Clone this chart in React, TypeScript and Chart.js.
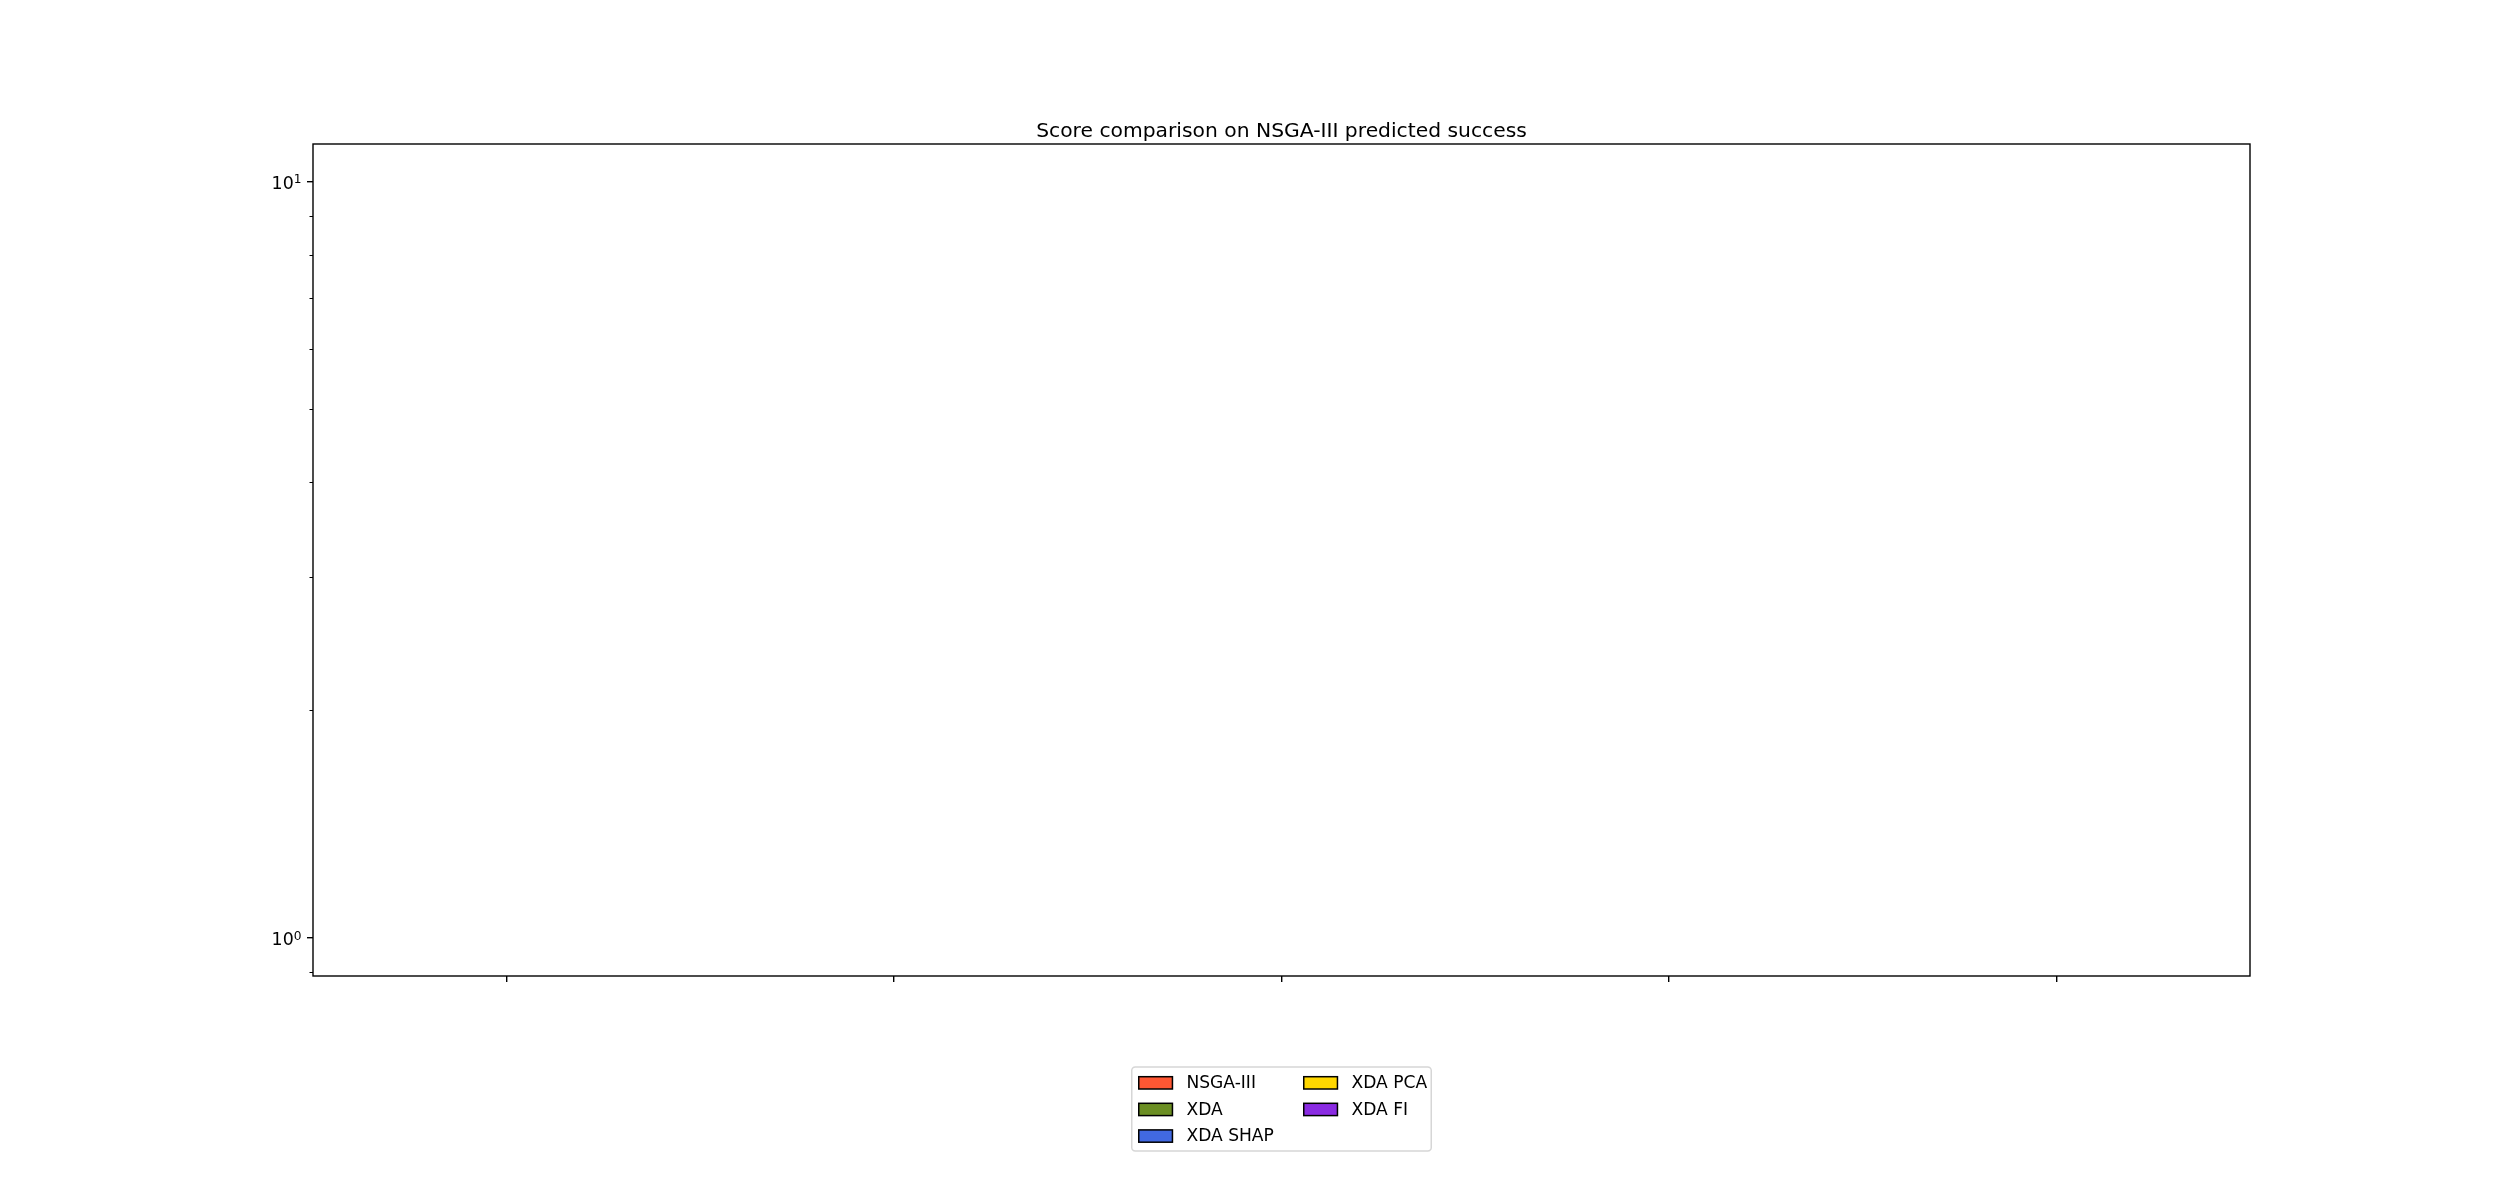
import { useEffect, useRef } from 'react';
import { Chart, registerables } from 'chart.js';

Chart.register(...registerables);

// ---- data ----
const categories = ['P1', 'P2', 'P3', 'P4', 'P5'];
const seriesLabels = ['NSGA-III', 'XDA', 'XDA SHAP', 'XDA PCA', 'XDA FI'];
const seriesColors = ['#FF5733', '#6B8E23', '#4169E1', '#FFD700', '#8A2BE2'];
const nsga3Values: (number | null)[] = [null, null, null, null, null];
const xdaValues: (number | null)[] = [null, null, null, null, null];
const xdaShapValues: (number | null)[] = [null, null, null, null, null];
const xdaPcaValues: (number | null)[] = [null, null, null, null, null];
const xdaFiValues: (number | null)[] = [null, null, null, null, null];
const majorTicks = [1, 10];
const majorTickBase = '10';
const majorTickExponents = ['0', '1'];
const minorTicks = [0.9, 2, 3, 4, 5, 6, 7, 8, 9];
const yMin = 0.8913;
const yMax = 11.22;
const titleText = 'Score comparison on NSGA-III predicted success';

const seriesValues = [nsga3Values, xdaValues, xdaShapValues, xdaPcaValues, xdaFiValues];

const FONT = 'DejaVu Sans';
const TICK_FS = 17.4;

const framePlugin = {
  id: 'mplFrame',
  afterDraw(chart: any) {
    const { ctx, chartArea: a } = chart;
    ctx.save();
    ctx.strokeStyle = '#000';
    ctx.lineWidth = 1.4;
    ctx.strokeRect(a.left, a.top, a.right - a.left, a.bottom - a.top);
    ctx.restore();
  },
};

// mathtext-like "10^n" labels for the major log ticks, placed via the y scale
const logLabelPlugin = {
  id: 'mplLogLabels',
  afterDraw(chart: any) {
    const { ctx } = chart;
    const scale = chart.scales.y;
    const xRight = scale.right - 6 - 6;
    ctx.save();
    ctx.fillStyle = '#000';
    ctx.textAlign = 'right';
    ctx.textBaseline = 'alphabetic';
    majorTicks.forEach((v, i) => {
      const y = scale.getPixelForValue(v);
      ctx.font = `12.2px "${FONT}"`;
      const supW = ctx.measureText(majorTickExponents[i]).width;
      ctx.fillText(majorTickExponents[i], xRight + 0.5, y + 1.4);
      ctx.font = `${TICK_FS}px "${FONT}"`;
      ctx.fillText(majorTickBase, xRight - supW + 0.5, y + 7.3);
    });
    ctx.restore();
  },
};

const legendPlugin = {
  id: 'mplLegend',
  afterDraw(chart: any) {
    const { ctx, chartArea: a } = chart;
    const fs = 17.1;
    const boxW = 299.5;
    const boxH = 84;
    const boxX = (a.left + a.right) / 2 - boxW / 2;
    const boxY = 1067;
    const r = 3.5;
    ctx.save();
    ctx.beginPath();
    ctx.moveTo(boxX + r, boxY);
    ctx.lineTo(boxX + boxW - r, boxY);
    ctx.arcTo(boxX + boxW, boxY, boxX + boxW, boxY + r, r);
    ctx.lineTo(boxX + boxW, boxY + boxH - r);
    ctx.arcTo(boxX + boxW, boxY + boxH, boxX + boxW - r, boxY + boxH, r);
    ctx.lineTo(boxX + r, boxY + boxH);
    ctx.arcTo(boxX, boxY + boxH, boxX, boxY + boxH - r, r);
    ctx.lineTo(boxX, boxY + r);
    ctx.arcTo(boxX, boxY, boxX + r, boxY, r);
    ctx.closePath();
    ctx.fillStyle = 'rgba(255,255,255,0.8)';
    ctx.fill();
    ctx.strokeStyle = '#d6d6d6';
    ctx.lineWidth = 1.5;
    ctx.stroke();

    const colX = [7, 172];
    const patchW = 33.7;
    const patchH = 12.3;
    const textOff = 47.7;
    const rowPitch = 26.6;
    ctx.font = `${fs}px "${FONT}"`;
    ctx.textBaseline = 'middle';
    ctx.textAlign = 'left';
    chart.data.datasets.forEach((ds: any, i: number) => {
      const col = Math.floor(i / 3);
      const row = i % 3;
      const px = boxX + colX[col];
      const py = boxY + 9.7 + row * rowPitch;
      ctx.fillStyle = ds.backgroundColor;
      ctx.fillRect(px, py, patchW, patchH);
      ctx.strokeStyle = '#000';
      ctx.lineWidth = 1.5;
      ctx.strokeRect(px, py, patchW, patchH);
      ctx.fillStyle = '#000';
      ctx.fillText(ds.label, px + textOff, py + patchH / 2 + 1);
    });
    ctx.restore();
  },
};

export default function App() {
  const ref = useRef<HTMLCanvasElement>(null);
  useEffect(() => {
    Chart.defaults.font.family = FONT;
    const chart = new Chart(ref.current as HTMLCanvasElement, {
      type: 'bar',
      data: {
        labels: categories,
        datasets: seriesLabels.map((label, i) => ({
          label,
          data: seriesValues[i],
          backgroundColor: seriesColors[i],
          borderColor: '#000',
          borderWidth: 1.5,
        })),
      },
      options: {
        animation: false,
        responsive: false,
        devicePixelRatio: 1,
        layout: { padding: { left: 313, right: 250, top: 0, bottom: 0 } },
        plugins: {
          legend: { display: false },
          tooltip: { enabled: false },
          title: {
            display: true,
            text: titleText,
            color: '#000',
            font: { family: FONT, size: 20.3, weight: 'normal', lineHeight: 1.2 },
            padding: { top: 119.5, bottom: 0.14 },
          },
        },
        scales: {
          x: {
            type: 'category',
            offset: true,
            grid: {
              offset: false,
              drawOnChartArea: false,
              drawTicks: true,
              tickLength: 6,
              color: '#000',
              lineWidth: 1.4,
            },
            border: { display: false },
            ticks: { callback: () => '', autoSkip: false },
            afterFit: (s: any) => {
              s.height = 224;
            },
          },
          y: {
            type: 'logarithmic',
            position: 'left',
            weight: 1,
            min: yMin,
            max: yMax,
            bounds: 'data',
            grid: {
              drawOnChartArea: false,
              drawTicks: true,
              tickLength: 6,
              color: '#000',
              lineWidth: 1.4,
            },
            border: { display: false },
            ticks: { display: false, autoSkip: false },
            afterBuildTicks: (s: any) => {
              s.ticks = majorTicks.map((v) => ({ value: v, major: true }));
            },
            afterFit: (s: any) => {
              s.width = 0;
            },
          },
          yMinor: {
            type: 'logarithmic',
            position: 'left',
            weight: 0,
            min: yMin,
            max: yMax,
            bounds: 'data',
            grid: {
              drawOnChartArea: false,
              drawTicks: true,
              tickLength: 3.5,
              color: '#000',
              lineWidth: 1.0,
            },
            border: { display: false },
            ticks: { display: false, autoSkip: false },
            afterBuildTicks: (s: any) => {
              s.ticks = minorTicks.map((v) => ({ value: v }));
            },
            afterFit: (s: any) => {
              s.width = 0;
            },
          },
        },
      } as any,
      plugins: [framePlugin, logLabelPlugin, legendPlugin],
    });
    return () => chart.destroy();
  }, []);
  return (
    <div style={{ position: 'fixed', left: 0, top: 0, width: 2500, height: 1200, background: '#fff' }}>
      <canvas ref={ref} width={2500} height={1200} style={{ width: 2500, height: 1200, display: 'block' }} />
    </div>
  );
}
